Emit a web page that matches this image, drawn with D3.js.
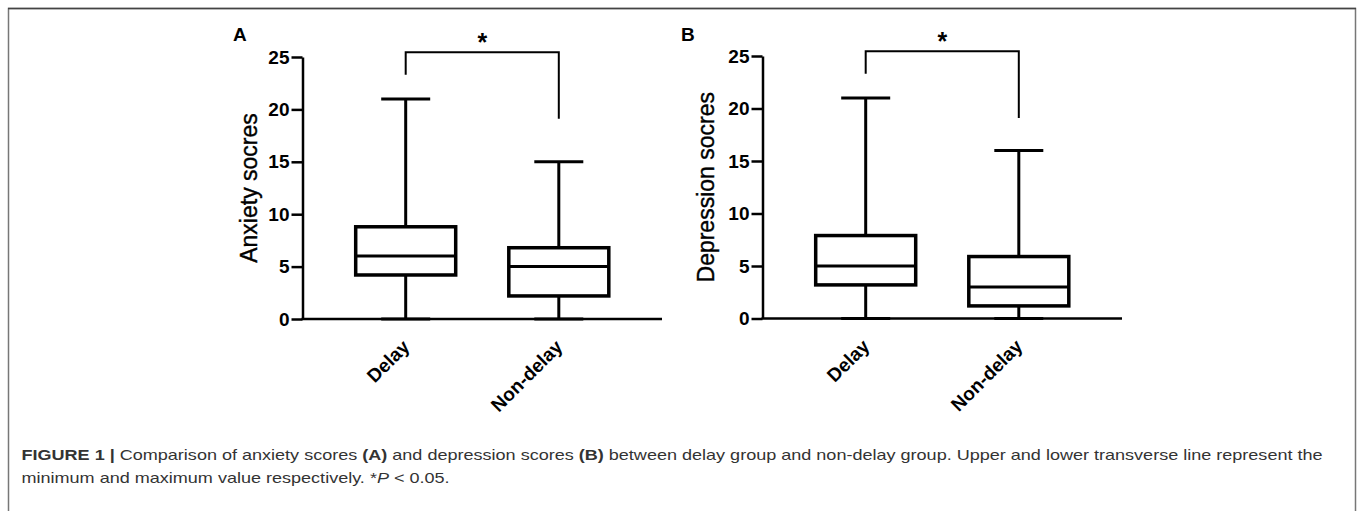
<!DOCTYPE html>
<html>
<head>
<meta charset="utf-8">
<script src="https://cdn.jsdelivr.net/npm/d3@7"></script>
<style>
  body { margin: 0; background: #fff; }
  svg { display: block; font-family: "Liberation Sans", Arial, sans-serif; }
</style>
</head>
<body>
<svg id="fig" width="1357" height="511"></svg>
<script>
// groups on the x axis
var groups = ['Delay', 'Non-delay']

// box stats per panel: min, q1, median, q3, max
var anxietyStats = [
  {min: 0, q1: 4.2, median: 6, q3: 8.8, max: 21},
  {min: 0, q1: 2.2, median: 5, q3: 6.8, max: 15}
]
var depressionStats = [
  {min: 0, q1: 3.2, median: 5, q3: 7.9, max: 21},
  {min: 0, q1: 1.2, median: 3, q3: 5.9, max: 16}
]

// significance bracket (in score units): top line, left leg end, right leg end
var anxietySig = [25.45, 23.3, 19.1]
var depressionSig = [25.45, 23.3, 19.1]

var yTicks = [0, 5, 10, 15, 20, 25]

var svg = d3.select('#fig')

// frame round the figure
svg.append('path')
  .attr('d', 'M8.5,511 V8.5 H1355.5 V511')
  .attr('fill', 'none')
  .attr('stroke', '#777')
  .attr('stroke-width', 1.5)
svg.append('line')
  .attr('x1', 8).attr('x2', 1356).attr('y1', 8.5).attr('y2', 8.5)
  .attr('stroke', '#444').attr('stroke-width', 1.5)

function drawPanel(opts) {
  var g = svg.append('g')

  var y = d3.scaleLinear().domain([0, 25]).range([opts.y0, opts.y25])
  var x = d3.scalePoint().domain(groups).range([opts.axisX, opts.axisEnd]).padding(0.674)

  var boxW = 100
  var capW = 49

  // y axis
  var yAxis = g.append('g')
    .attr('transform', 'translate(' + opts.axisX + ',0)')
    .call(d3.axisLeft(y).tickValues(yTicks).tickSize(11).tickSizeOuter(0).tickPadding(2))
  yAxis.select('.domain').attr('stroke', '#000').attr('stroke-width', 2.5)
  yAxis.selectAll('.tick line').attr('stroke', '#000').attr('stroke-width', 2.5)
  yAxis.selectAll('.tick text')
    .attr('fill', '#000')
    .style('font-size', '19px')
    .style('font-weight', 'bold')
    .style('font-family', '"Liberation Sans", Arial, sans-serif')

  // x axis line
  g.append('line')
    .attr('x1', opts.axisX - 1).attr('x2', opts.axisEnd)
    .attr('y1', y(0)).attr('y2', y(0))
    .attr('stroke', '#000').attr('stroke-width', 2.5)

  // x labels, rotated
  g.selectAll('.xlab')
    .data(groups)
    .enter()
    .append('text')
    .attr('class', 'xlab')
    .attr('transform', function(d){ return 'translate(' + (x(d) + 5) + ',' + (y(0) + 29) + ') rotate(-45)' })
    .attr('text-anchor', 'end')
    .style('font-size', '19px')
    .style('font-weight', 'bold')
    .text(function(d){ return d })

  // boxes
  var bx = g.selectAll('.box')
    .data(opts.stats)
    .enter()
    .append('g')
    .attr('transform', function(d, i){ return 'translate(' + x(groups[i]) + ',0)' })

  // whiskers
  bx.append('line')
    .attr('y1', function(d){ return y(d.max) })
    .attr('y2', function(d){ return y(d.q3) })
    .attr('stroke', '#000').attr('stroke-width', 3)
  bx.append('line')
    .attr('y1', function(d){ return y(d.q1) })
    .attr('y2', function(d){ return y(d.min) })
    .attr('stroke', '#000').attr('stroke-width', 3)
  // caps
  bx.append('line')
    .attr('x1', -capW / 2).attr('x2', capW / 2)
    .attr('y1', function(d){ return y(d.max) })
    .attr('y2', function(d){ return y(d.max) })
    .attr('stroke', '#000').attr('stroke-width', 3)
  bx.append('line')
    .attr('x1', -capW / 2).attr('x2', capW / 2)
    .attr('y1', function(d){ return y(d.min) })
    .attr('y2', function(d){ return y(d.min) })
    .attr('stroke', '#000').attr('stroke-width', 3)

  bx.append('rect')
    .attr('x', -boxW / 2)
    .attr('width', boxW)
    .attr('y', function(d){ return y(d.q3) })
    .attr('height', function(d){ return y(d.q1) - y(d.q3) })
    .attr('fill', '#fff')
    .attr('stroke', '#000').attr('stroke-width', 3.5)
  bx.append('line')
    .attr('x1', -boxW / 2).attr('x2', boxW / 2)
    .attr('y1', function(d){ return y(d.median) })
    .attr('y2', function(d){ return y(d.median) })
    .attr('stroke', '#000').attr('stroke-width', 3)

  // significance bracket
  var s = opts.sig
  var xl = x(groups[0]), xr = x(groups[1])
  g.append('path')
    .attr('d', 'M' + xl + ',' + y(s[1]) + ' V' + y(s[0]) + ' H' + xr + ' V' + y(s[2]))
    .attr('fill', 'none')
    .attr('stroke', '#000').attr('stroke-width', 2)
  g.append('text')
    .attr('x', (xl + xr) / 2)
    .attr('y', y(s[0]) - 1)
    .attr('text-anchor', 'middle')
    .style('font-size', '25px')
    .style('font-weight', 'bold')
    .text('*')

  // y title (a hair of stroke to get the heavier look of the figure)
  g.append('text')
    .attr('transform', 'translate(' + opts.titleX + ',' + ((y(0) + y(25)) / 2) + ') rotate(-90)')
    .attr('text-anchor', 'middle')
    .attr('stroke', '#000')
    .attr('stroke-width', 0.4)
    .style('font-size', '23px')
    .text(opts.title)

  // panel letter
  g.append('text')
    .attr('x', opts.letterX)
    .attr('y', 41)
    .style('font-size', '19px')
    .style('font-weight', 'bold')
    .text(opts.letter)
}

drawPanel({
  stats: anxietyStats, sig: anxietySig, title: 'Anxiety socres', letter: 'A',
  axisX: 302.5, axisEnd: 662, y0: 319, y25: 57, titleX: 257, letterX: 233
})
drawPanel({
  stats: depressionStats, sig: depressionSig, title: 'Depression socres', letter: 'B',
  axisX: 762.5, axisEnd: 1122, y0: 318.5, y25: 56, titleX: 714, letterX: 681
})

// caption
var capX = 21.5
var cap = svg.append('g')
  .style('font-size', '15px')
  .attr('fill', '#333')

var line1 = cap.append('text').attr('x', capX).attr('y', 460)
line1.append('tspan').style('font-weight', 'bold').text('FIGURE 1 | ')
line1.append('tspan').text('Comparison of anxiety scores ')
line1.append('tspan').style('font-weight', 'bold').text('(A)')
line1.append('tspan').text(' and depression scores ')
line1.append('tspan').style('font-weight', 'bold').text('(B)')
line1.append('tspan').text(' between delay group and non-delay group. Upper and lower transverse line represent the')

var line2 = cap.append('text').attr('x', capX).attr('y', 483)
line2.append('tspan').text('minimum and maximum value respectively. *')
line2.append('tspan').style('font-style', 'italic').text('P')
line2.append('tspan').text(' < 0.05.')

// the caption face in the figure is wider than Liberation Sans, stretch to the same line length
var w1 = line1.node().getBBox().width
var sx = (1324 - capX) / w1
cap.attr('transform', 'translate(' + capX + ',0) scale(' + sx + ',1) translate(' + (-capX) + ',0)')
</script>
</body>
</html>
